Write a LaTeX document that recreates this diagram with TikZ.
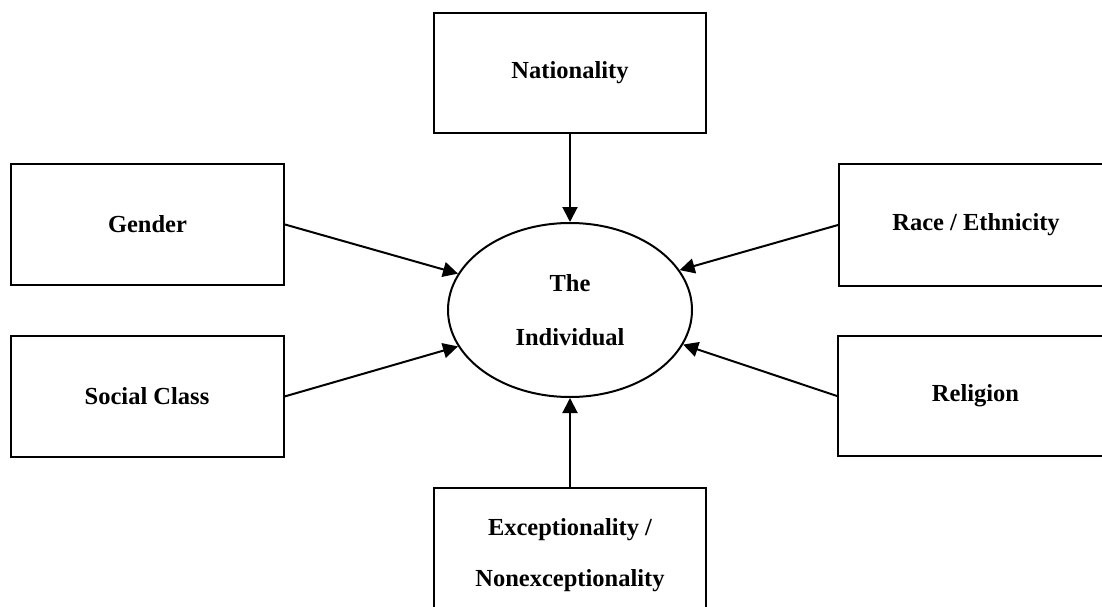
\documentclass[tikz,border=0pt]{standalone}
\usepackage{fontspec}
\setmainfont{Liberation Serif}
\usetikzlibrary{shapes.geometric,arrows.meta}
\begin{document}
\begin{tikzpicture}[x=1pt,y=-1pt,
  box/.style={draw,line width=2pt,rectangle,inner sep=0pt,align=center,
    font=\fontsize{24.5}{51}\selectfont\bfseries},
  oval/.style={draw,line width=2pt,ellipse,inner sep=0pt,align=center,
    minimum width=244pt,minimum height=174pt,
    font=\fontsize{24.5}{54}\selectfont\bfseries},
  conn/.style={line width=2pt,-{Triangle[length=15pt,width=15pt]}}]
\useasboundingbox (0,0) rectangle (1102,607);
\clip (0,0) rectangle (1102,607);
\fill[white] (0,0) rectangle (1102,607);
\node[oval] (ind) at (570,310) {The\\Individual};
\node[box,minimum width=272pt,minimum height=120pt] (nat) at (570,73) {Nationality};
\node[box,minimum width=273pt,minimum height=121pt] (gen) at (147.5,224.5) {Gender};
\node[box,minimum width=273pt,minimum height=121pt] (soc) at (147,396.5) {Social Class};
\node[box,minimum width=274pt,minimum height=122pt] (race) at (976,225) {Race / Ethnicity};
\node[box,minimum width=275pt,minimum height=120pt] (rel) at (975.5,396) {Religion};
\node[box,minimum width=272pt,minimum height=134pt] (exc) at (570,555) {Exceptionality /\\Nonexceptionality};
\draw[conn] (nat.south) -- (ind.north);
\draw[conn] (gen.east) -- (ind.162);
\draw[conn] (soc.east) -- (ind.198);
\draw[conn] (race.west) -- (ind.20);
\draw[conn] (rel.west) -- (ind.-17);
\draw[conn] (exc.north) -- (ind.south);
\end{tikzpicture}
\end{document}
